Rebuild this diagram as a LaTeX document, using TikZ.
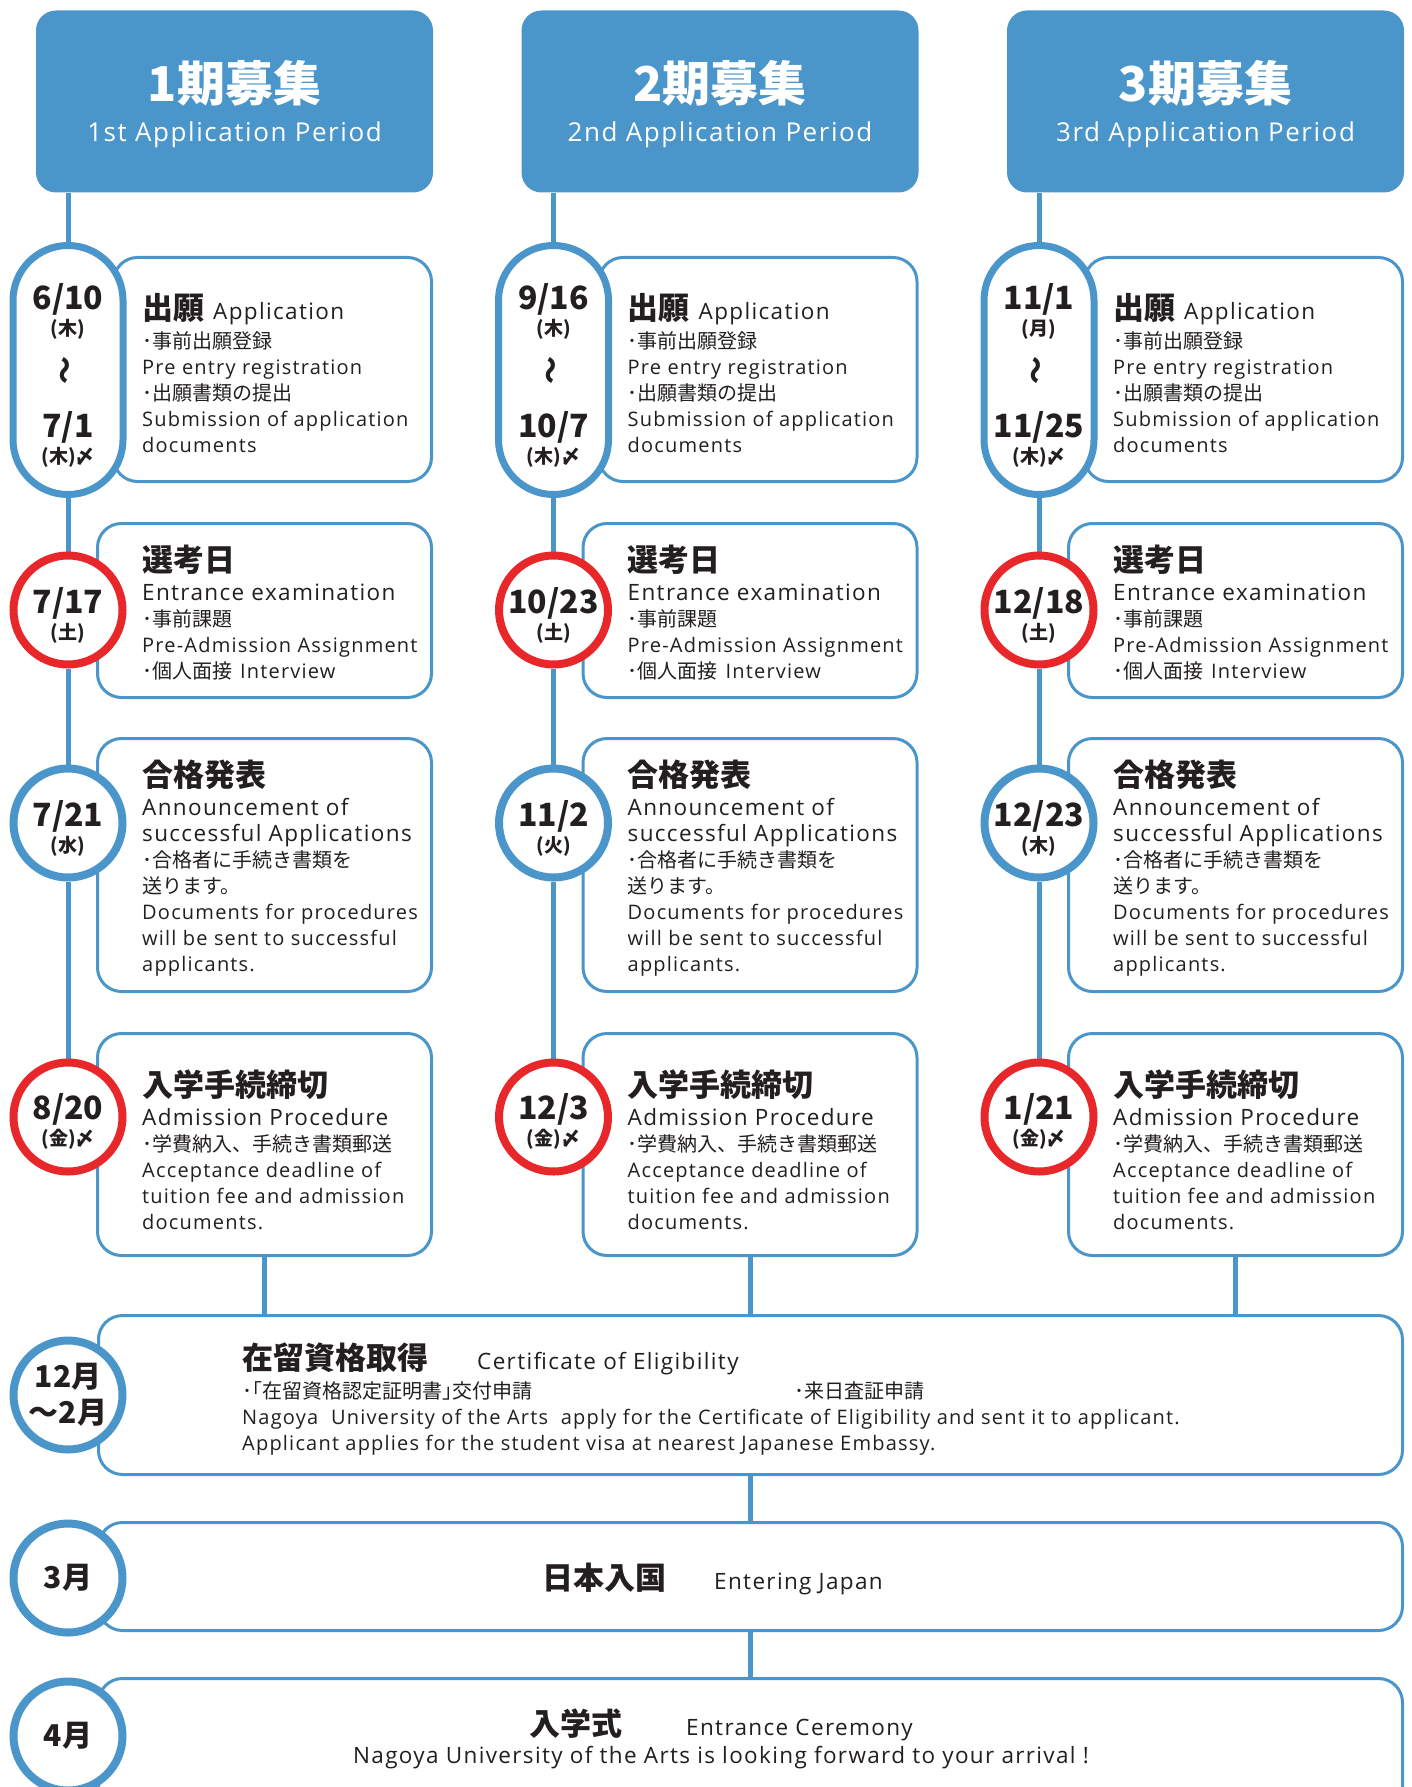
\documentclass[tikz,border=0pt]{standalone}
\usepackage{fontspec}
\setmainfont{Open Sans}[LetterSpace=6]
\newfontfamily\jp{Noto Sans CJK JP}
\usetikzlibrary{positioning}
\pgfdeclarelayer{back}
\pgfsetlayers{back,main}
\definecolor{appblue}{RGB}{74,149,201}
\definecolor{appred}{RGB}{232,39,42}
\definecolor{ink}{RGB}{35,31,32}
\newcommand{\bodyfont}{\fontsize{20}{26}\selectfont}
\newcommand{\subfont}{\fontsize{22.5}{26}\selectfont}
\newcommand{\ttlfont}{\jp\bfseries\fontsize{31}{34}\selectfont}
\newcommand{\datefont}{\jp\bfseries\fontsize{32}{30}\selectfont}
\newcommand{\dayfont}{\jp\bfseries\fontsize{19}{24}\selectfont}
\newcommand{\monthfont}{\jp\bfseries\fontsize{30}{34}\selectfont}

\begin{document}
\begin{tikzpicture}[x=1pt, y=-1pt, font=\bodyfont, text=ink,
	head/.style={fill=appblue, rounded corners=20pt, minimum width=397pt, minimum height=182pt, inner sep=0pt},
	stage/.style={draw=appblue, line width=3pt, fill=white, rounded corners=24pt, inner sep=0pt},
	pill/.style={draw=appblue, line width=7pt, fill=white, rounded corners=54.9pt, minimum width=110pt, minimum height=249pt, inner sep=0pt},
	bluedate/.style={circle, draw=appblue, line width=8pt, fill=white, minimum size=109pt, inner sep=0pt, align=center},
	reddate/.style={bluedate, draw=appred},
	datetxt/.style={align=center, inner sep=0pt},
	link/.style={draw=appblue, line width=5pt},
	txt/.style={anchor=north west, inner sep=0pt, align=left}]
	\useasboundingbox (0,0) rectangle (1412,1787);
	\clip (0,0) rectangle (1412,1787);

	% Steps after the three periods
	\node[stage, minimum width=1304pt, minimum height=159pt] (elig) at (750.5,1395) {};
	\node[stage, minimum width=1304pt, minimum height=108pt] (entry) at (750.5,1576.5) {};
	\node[stage, minimum width=1304pt, minimum height=170pt] (cere) at (750.5,1763.5) {};
	\node[bluedate] (eligd) at (68,1395) {{\monthfont 12月}\\[8pt]{\monthfont ～2月}};
	\node[bluedate] (entryd) at (68,1578) {\monthfont 3月};
	\node[bluedate] (cered) at (68,1736) {\monthfont 4月};

	\node[txt] (eligt) at (242,1343) {{\ttlfont 在留資格取得}\hspace{49pt}{\subfont Certificate of Eligibility}\\[3pt]
		\makebox[552pt][l]{\jp ･｢在留資格認定証明書｣交付申請}{\jp ･来日査証申請}\\
		Nagoya\ \ University of the Arts\ \ apply for the Certificate of Eligibility and sent it to applicant.\\
		Applicant applies for the student visa at nearest Japanese Embassy.};
	\node[anchor=west, inner sep=0pt] (entryt) at (542,1579) {{\ttlfont 日本入国}\hspace{48pt}{\subfont Entering Japan}};
	\node[align=center, inner sep=0pt] (ceret) at (721,1739) {{\ttlfont 入学式}\hspace{64pt}{\subfont Entrance Ceremony}\\[2pt]
		{\subfont Nagoya University of the Arts is looking forward to your arrival !}};

	\begin{pgfonlayer}{back}
		\draw[link] (elig) -- (entry);
		\draw[link] (entry) -- (cere);
	\end{pgfonlayer}

	% The three application periods
	\foreach \i/\per/\ord/\dStart/\wStart/\dEnd/\dExam/\dAnn/\wAnn/\dAdm in {
		0/1/1st/{6/10}/木/{7/1}/{7/17}/{7/21}/水/{8/20},
		1/2/2nd/{9/16}/木/{10/7}/{10/23}/{11/2}/火/{12/3},
		2/3/3rd/{11/1}/月/{11/25}/{12/18}/{12/23}/木/{1/21}}{
	\begin{scope}[xshift=\i*485.5pt]
		\node[head] (head\i) at (234.5,101.5) {};
		\node[datetxt, text=white] (headt\i) at ([yshift=-2.5pt]head\i.center) {{\jp\bfseries\fontsize{48}{50}\selectfont\per{}期募集}\\[14pt]{\fontsize{26}{30}\selectfont\ord\ Application Period}};

		% boxes
		\node[stage, minimum width=318pt, minimum height=224pt] (app\i) at (272.5,369.5) {};
		\node[stage, minimum width=334pt, minimum height=174pt] (exam\i) at (264.5,610.5) {};
		\node[stage, minimum width=334pt, minimum height=253pt] (ann\i) at (264.5,865) {};
		\node[stage, minimum width=334pt, minimum height=222pt] (adm\i) at (264.5,1144.5) {};

		\node[txt] (appt\i) at (142,293) {{\ttlfont 出願}\hspace{9pt}{\subfont Application}\\[3pt]
			{\jp ･事前出願登録}\\
			Pre entry registration\\
			{\jp ･出願書類の提出}\\
			Submission of application\\
			documents};
		\node[txt] (examt\i) at (142,544.5) {{\ttlfont 選考日}\\[3pt]
			{\subfont Entrance examination}\\
			{\jp ･事前課題}\\
			Pre-Admission Assignment\\
			{\jp ･個人面接}\hspace{8pt}Interview};
		\node[txt] (annt\i) at (142,760) {{\ttlfont 合格発表}\\[3pt]
			{\subfont Announcement of}\\
			{\subfont successful Applications}\\
			{\jp ･合格者に手続き書類を}\\
			{\jp 送ります。}\\
			Documents for procedures\\
			will be sent to successful\\
			applicants.};
		\node[txt] (admt\i) at (142,1070) {{\ttlfont 入学手続締切}\\[3pt]
			{\subfont Admission Procedure}\\
			{\jp ･学費納入、手続き書類郵送}\\
			Acceptance deadline of\\
			tuition fee and admission\\
			documents.};

		% dates
		\node[pill] (pill\i) at (68,370) {};
		\node[datetxt] (ps\i) at ([yshift=59pt]pill\i.center) {{\datefont\dStart}\\{\dayfont(\wStart)}};
		\node[rotate=90, inner sep=0pt] (wave\i) at (pill\i.center) {\jp\bfseries\fontsize{28}{28}\selectfont ～};
		\node[datetxt] (pe\i) at ([yshift=-69pt]pill\i.center) {{\datefont\dEnd}\\{\dayfont(木)〆}};
		\node[reddate] (exd\i) at (68,610) {};
		\node[datetxt] (exdt\i) at ([yshift=-5pt]exd\i.center) {{\datefont\dExam}\\{\dayfont(土)}};
		\node[bluedate] (and\i) at (68,823) {};
		\node[datetxt] (andt\i) at ([yshift=-5.5pt]and\i.center) {{\datefont\dAnn}\\{\dayfont(\wAnn)}};
		\node[reddate] (add\i) at (68,1117) {};
		\node[datetxt] (addt\i) at ([yshift=-4pt]add\i.center) {{\datefont\dAdm}\\{\dayfont(金)〆}};

		\begin{pgfonlayer}{back}
			\draw[link] (head\i.south -| pill\i) -- (pill\i);
			\draw[link] (pill\i) -- (exd\i);
			\draw[link] (exd\i) -- (and\i);
			\draw[link] (and\i) -- (add\i);
			\draw[link] (adm\i) -- (adm\i |- elig);
		\end{pgfonlayer}
	\end{scope}
	}
\end{tikzpicture}
\end{document}
